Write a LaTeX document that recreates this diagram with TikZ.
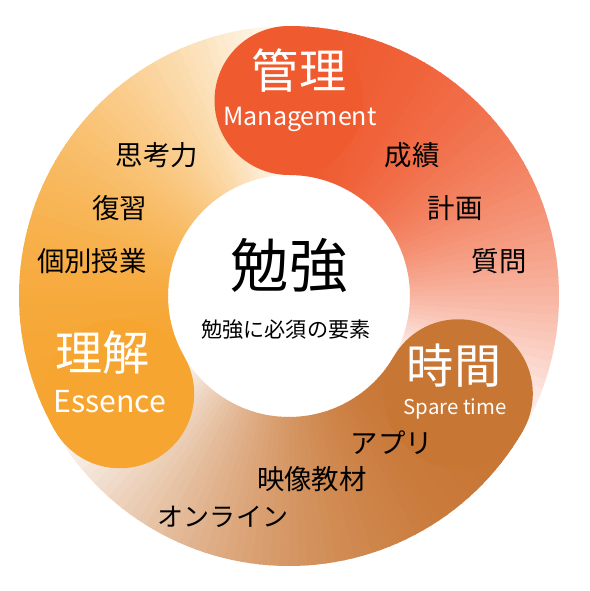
\documentclass[tikz,border=0pt]{standalone}
\usepackage{fontspec}
\setmainfont{Noto Sans CJK JP}
\usetikzlibrary{positioning}

\definecolor{mgmt}{RGB}{239,90,47}
\definecolor{spare}{RGB}{200,118,52}
\definecolor{essence}{RGB}{246,165,49}

\tikzset{
  item/.style={font=\fontsize{19.5}{20}\selectfont},
  headword/.style={white, font=\fontsize{33.5}{34}\selectfont},
  subword/.style={white, anchor=base}
}

\begin{document}
\begin{tikzpicture}[x=0.025cm, y=0.025cm]
      \fill[white] (-289, -295) rectangle (301, 296);
      \useasboundingbox (-289, -295) rectangle (301, 296);
      % three fading segments of the ring
      \foreach \h/\c in {90/mgmt, -30/spare, 210/essence} {
        \foreach \i in {0,...,59} {
          \pgfmathsetmacro\a{\h-2*\i}
          \pgfmathsetmacro\b{\h-2*\i-2.4}
          \pgfmathsetmacro\p{max(2, 100*(1-(\i/60)^2))}
          \fill[\c!\p!white] (\a:121) arc[start angle=\a, end angle=\b, radius=121]
            -- (\b:270) arc[start angle=\b, end angle=\a, radius=270] -- cycle;
        }
      }
      % heads
      \fill[mgmt] (90:195.5) circle (74.5);
      \fill[spare] (-30:195.5) circle (74.5);
      \fill[essence] (210:195.5) circle (74.5);
      % centre
      \node[font=\fontsize{41.5}{42}\selectfont] (benkyo) at (0, 31) {勉強};
      \node[font=\fontsize{15}{15}\selectfont] (youso) at (-3, -34) {勉強に必須の要素};
      % heads' words
      \node[headword] (kanri) at (10, 225) {管理};
      \node[subword, font=\fontsize{17.8}{18}\selectfont] (management) at (11, 170) {Management};
      \node[headword] (jikan) at (165, -70) {時間};
      \node[subword, font=\fontsize{14.5}{15}\selectfont] (sparetime) at (166, -118) {Spare time};
      \node[headword] (rikai) at (-186, -57) {理解};
      \node[subword, font=\fontsize{21.5}{22}\selectfont] (essence) at (-179, -116) {Essence};
      % items
      \node[item] (seiseki) at (123, 141) {成績};
      \node[item] (keikaku) at (166, 88) {計画};
      \node[item] (shitsumon) at (210, 35) {質問};
      \node[item] (apuri) at (103, -147) {アプリ};
      \node[item] (eizou) at (23, -183) {映像教材};
      \node[item, font=\fontsize{18.5}{19}\selectfont] (online) at (-66, -221) {オンライン};
      \node[item] (shikou) at (-132, 141) {思考力};
      \node[item] (fukushu) at (-169, 88) {復習};
      \node[item] (kobetsu) at (-197, 35) {個別授業};
    \end{tikzpicture}
\end{document}
